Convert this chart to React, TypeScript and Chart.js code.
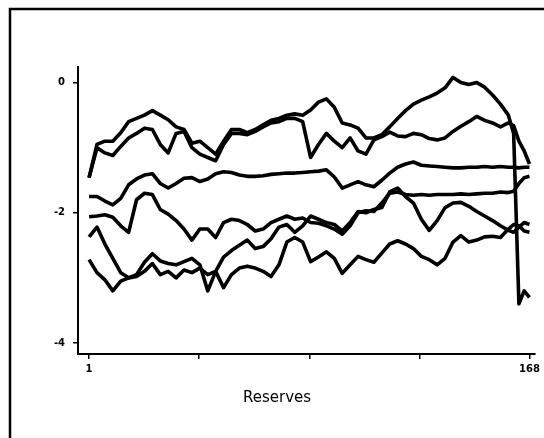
import React, { useEffect, useRef } from "react";
import { Chart, registerables } from "chart.js";

Chart.register(...registerables);

// Reserve index (x positions at which values were read)
const X = [
  1, 4, 7, 10, 13, 16, 19, 22, 25, 28, 31, 34, 37, 40, 43, 46, 49, 52, 55, 58,
  61, 64, 67, 70, 73, 76, 79, 82, 85, 88, 91, 94, 97, 100, 103, 106, 109, 112,
  115, 118, 121, 124, 127, 130, 133, 136, 139, 142, 145, 148, 151, 154, 157,
  160, 162, 164, 166, 168,
];

const seriesA = [
  -1.46, -0.95, -0.9, -0.9, -0.77, -0.6, -0.55, -0.5, -0.43, -0.5, -0.57, -0.68,
  -0.72, -0.93, -0.9, -1.0, -1.1, -0.9, -0.72, -0.72, -0.77, -0.72, -0.65, -0.58,
  -0.55, -0.5, -0.48, -0.5, -0.42, -0.3, -0.25, -0.38, -0.62, -0.65, -0.7, -0.85,
  -0.85, -0.8, -0.68, -0.55, -0.43, -0.33, -0.27, -0.22, -0.16, -0.08, 0.08, 0.0,
  -0.03, 0.0, -0.07, -0.19, -0.33, -0.5, -0.78, -3.4, -3.2, -3.3,
];

const seriesB = [
  -1.46, -1.0, -1.08, -1.12, -0.98, -0.85, -0.78, -0.7, -0.72, -0.95, -1.08, -0.78,
  -0.75, -1.0, -1.1, -1.15, -1.2, -0.95, -0.78, -0.78, -0.8, -0.75, -0.68, -0.62,
  -0.6, -0.55, -0.55, -0.6, -1.15, -0.95, -0.78, -0.9, -1.0, -0.85, -1.05, -1.1,
  -0.88, -0.83, -0.76, -0.82, -0.83, -0.78, -0.8, -0.86, -0.88, -0.85, -0.75, -0.67,
  -0.6, -0.52, -0.58, -0.62, -0.68, -0.62, -0.66, -0.9, -1.05, -1.25,
];

const seriesC = [
  -1.75, -1.75, -1.82, -1.88, -1.78, -1.57, -1.48, -1.42, -1.4, -1.55, -1.62, -1.55,
  -1.47, -1.46, -1.52, -1.48, -1.4, -1.37, -1.38, -1.42, -1.44, -1.44, -1.43, -1.41,
  -1.4, -1.39, -1.39, -1.38, -1.37, -1.36, -1.34, -1.45, -1.62, -1.57, -1.52, -1.57,
  -1.6, -1.5, -1.39, -1.3, -1.25, -1.22, -1.27, -1.28, -1.29, -1.3, -1.31, -1.31,
  -1.3, -1.3, -1.29, -1.3, -1.29, -1.3, -1.3, -1.31, -1.3, -1.3,
];

const seriesD = [
  -2.06, -2.05, -2.03, -2.07, -2.2, -2.3, -1.8, -1.7, -1.72, -1.95, -2.02, -2.12,
  -2.25, -2.42, -2.25, -2.25, -2.38, -2.15, -2.1, -2.12, -2.18, -2.28, -2.25, -2.15,
  -2.1, -2.05, -2.1, -2.08, -2.15, -2.16, -2.2, -2.25, -2.33, -2.2, -2.0, -1.97,
  -1.98, -1.85, -1.7, -1.68, -1.72, -1.73, -1.72, -1.73, -1.72, -1.72, -1.72, -1.71,
  -1.72, -1.71, -1.7, -1.7, -1.68, -1.69, -1.67, -1.55, -1.46, -1.44,
];

const seriesE = [
  -2.37, -2.22, -2.48, -2.7, -2.92, -3.0, -2.95, -2.76, -2.63, -2.74, -2.78, -2.8,
  -2.75, -2.7, -2.8, -3.2, -2.9, -2.68, -2.58, -2.5, -2.42, -2.55, -2.52, -2.4,
  -2.22, -2.18, -2.3, -2.2, -2.05, -2.1, -2.15, -2.18, -2.28, -2.15, -1.98, -2.0,
  -1.95, -1.92, -1.68, -1.62, -1.75, -1.85, -2.1, -2.27, -2.12, -1.92, -1.85, -1.84,
  -1.9, -1.98, -2.05, -2.12, -2.2, -2.27, -2.3, -2.22, -2.15, -2.18,
];

const seriesF = [
  -2.72, -2.92, -3.03, -3.2, -3.05, -3.0, -2.98, -2.9, -2.78, -2.95, -2.9, -3.0,
  -2.88, -2.92, -2.85, -2.95, -2.9, -3.15, -2.95, -2.85, -2.82, -2.85, -2.9, -2.98,
  -2.8, -2.45, -2.38, -2.45, -2.75, -2.68, -2.6, -2.7, -2.93, -2.8, -2.67, -2.72,
  -2.76, -2.62, -2.48, -2.43, -2.48, -2.55, -2.67, -2.72, -2.8, -2.7, -2.45, -2.35,
  -2.45, -2.42, -2.37, -2.36, -2.38, -2.25, -2.18, -2.2, -2.28, -2.3,
];

const SERIES = [seriesA, seriesB, seriesC, seriesD, seriesE, seriesF];

const X_TICKS = [1, 42.75, 84.5, 126.25, 168];
const X_TICK_LABELS = ["1", "", "", "", "168"];
const Y_TICKS = [-4, -2, 0];
const Y_TICK_LABELS = ["-4", "-2", "0"];
const X_TITLE = "Reserves";

export default function App() {
  const ref = useRef<HTMLCanvasElement | null>(null);

  useEffect(() => {
    if (!ref.current) return;
    const framePlugin = {
      id: "frameAndTitle",
      afterDraw(chart: any) {
        const ctx = chart.ctx;
        ctx.save();
        ctx.strokeStyle = "#000";
        ctx.lineWidth = 2.5;
        ctx.beginPath();
        ctx.moveTo(10, 438);
        ctx.lineTo(10, 9);
        ctx.lineTo(544, 9);
        ctx.stroke();
        ctx.fillStyle = "#000";
        ctx.font = "15px 'DejaVu Sans'";
        ctx.textAlign = "center";
        ctx.textBaseline = "middle";
        ctx.fillText(X_TITLE, 277, 398);
        ctx.restore();
      },
    };

    const chart = new Chart(ref.current, {
      type: "line",
      data: {
        datasets: SERIES.map((s) => ({
          data: X.map((x, i) => ({ x, y: s[i] })),
          borderColor: "#000",
          borderWidth: 3.6,
          pointRadius: 0,
          tension: 0,
          fill: false,
          borderJoinStyle: "round" as const,
        })),
      },
      options: {
        animation: false,
        responsive: false,
        layout: { padding: { top: 67, right: 9, left: 0, bottom: 0 } },
        plugins: { legend: { display: false }, tooltip: { enabled: false } },
        scales: {
          x: {
            type: "linear",
            min: -3.2,
            max: 170,
            afterBuildTicks: (scale: any) => {
              scale.ticks = X_TICKS.map((v) => ({ value: v }));
            },
            afterFit: (scale: any) => {
              scale.height = 84;
            },
            ticks: {
              autoSkip: false,
              maxRotation: 0,
              padding: 4,
              color: "#000",
              font: { family: "'DejaVu Sans'", size: 10, weight: "bold" },
              callback: (_v: any, i: number) => X_TICK_LABELS[i],
            },
            grid: {
              drawOnChartArea: false,
              drawTicks: true,
              tickLength: 5,
              color: "#000",
              lineWidth: 1.5,
            },
            border: { display: true, color: "#000", width: 2 },
          },
          y: {
            type: "linear",
            min: -4.17,
            max: 0.24,
            afterBuildTicks: (scale: any) => {
              scale.ticks = Y_TICKS.map((v) => ({ value: v }));
            },
            afterFit: (scale: any) => {
              scale.width = 78;
            },
            ticks: {
              autoSkip: false,
              padding: 8,
              color: "#000",
              font: { family: "'DejaVu Sans'", size: 10, weight: "bold" },
              callback: (_v: any, i: number) => Y_TICK_LABELS[i],
            },
            grid: {
              drawOnChartArea: false,
              drawTicks: true,
              tickLength: 5,
              color: "#000",
              lineWidth: 1.5,
            },
            border: { display: true, color: "#000", width: 2 },
          },
        },
      },
      plugins: [framePlugin],
    });
    return () => chart.destroy();
  }, []);

  return (
    <div style={{ position: "fixed", left: 0, top: 0, width: 544, height: 438, background: "#fff" }}>
      <canvas ref={ref} width={544} height={438} style={{ display: "block" }} />
    </div>
  );
}
